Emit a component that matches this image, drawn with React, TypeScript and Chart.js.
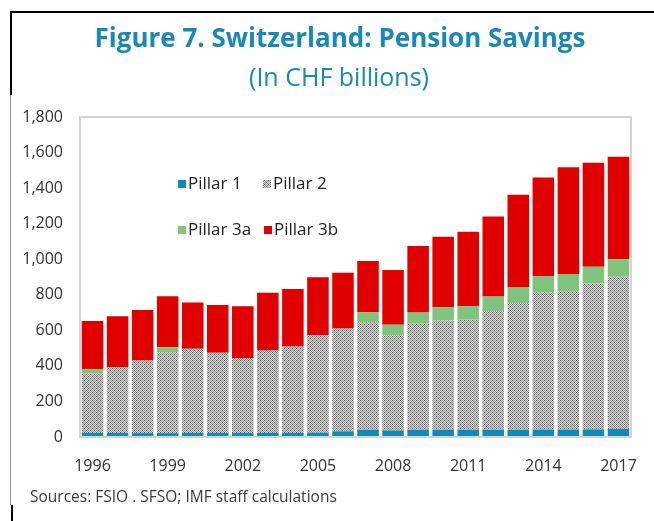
import React, { useEffect, useRef } from "react";
import { Chart, registerables } from "chart.js";

Chart.register(...registerables);

const years = [
  "1996", "1997", "1998", "1999", "2000", "2001", "2002", "2003", "2004", "2005", "2006",
  "2007", "2008", "2009", "2010", "2011", "2012", "2013", "2014", "2015", "2016", "2017",
];
const shownYears = ["1996", "1999", "2002", "2005", "2008", "2011", "2014", "2017"];

const pillar1 = [23, 23, 22, 22, 23, 23, 23, 23, 23, 25, 32, 41, 37, 41, 41, 41, 41, 41, 42, 42, 43, 45];
const pillar2 = [335, 369, 408, 455, 473, 451, 420, 464, 486, 547, 579, 604, 535, 597, 615, 619, 668, 713, 771, 780, 821, 857];
const pillar3a = [25, 0, 0, 28, 0, 0, 0, 0, 0, 0, 0, 57, 60, 62, 74, 76, 81, 87, 92, 95, 94, 98];
const pillar3b = [269, 287, 285, 287, 261, 269, 293, 324, 323, 326, 313, 288, 307, 375, 396, 418, 451, 521, 555, 600, 585, 577];

const seriesNames = ["Pillar 1", "Pillar 2", "Pillar 3a", "Pillar 3b"];

const yMax = 1800;
const yStep = 200;

const FONT = "'Open Sans', 'Noto Sans', sans-serif";

function makePattern(): CanvasPattern | string {
  const c = document.createElement("canvas");
  c.width = 4;
  c.height = 4;
  const g = c.getContext("2d");
  if (!g) return "#a0a0a0";
  const D = "#585858", M = "#8e8e8e", L = "#dadada";
  const grid = [
    [D, L, M, L],
    [L, M, L, M],
    [M, L, D, L],
    [L, M, L, M],
  ];
  for (let y = 0; y < 4; y++)
    for (let x = 0; x < 4; x++) {
      g.fillStyle = grid[y][x];
      g.fillRect(x, y, 1, 1);
    }
  const p = g.createPattern(c, "repeat");
  return p || "#a0a0a0";
}

export default function App() {
  const ref = useRef<HTMLCanvasElement | null>(null);

  useEffect(() => {
    if (!ref.current) return;
    const pattern = makePattern();

    const framePlugin = {
      id: "frame",
      afterDraw(chart: any) {
        const { ctx, chartArea } = chart;
        ctx.save();
        ctx.strokeStyle = "#d4d4d4";
        ctx.lineWidth = 2;
        ctx.strokeRect(chartArea.left, chartArea.top, chartArea.right - chartArea.left, chartArea.bottom - chartArea.top);
        ctx.restore();
      },
    };

    const legendSpots = [
      [178, 184],
      [263, 184],
      [178, 230],
      [264, 230],
    ];

    const legendPlugin = {
      id: "insideLegend",
      afterDraw(chart: any) {
        const { ctx } = chart;
        ctx.save();
        ctx.font = `17px ${FONT}`;
        ctx.textBaseline = "middle";
        ctx.textAlign = "left";
        chart.data.datasets.forEach((ds: any, i: number) => {
          const [x, y] = legendSpots[i];
          ctx.fillStyle = ds.backgroundColor;
          ctx.fillRect(x, y - 4, 8, 8);
          ctx.fillStyle = "#1e1e1e";
          ctx.fillText(ds.label, x + 10, y);
        });
        ctx.restore();
      },
    };

    const chart = new Chart(ref.current, {
      type: "bar",
      data: {
        labels: years,
        datasets: [
          { label: seriesNames[0], data: pillar1, backgroundColor: "#1289b6" },
          { label: seriesNames[1], data: pillar2, backgroundColor: pattern as any },
          { label: seriesNames[2], data: pillar3a, backgroundColor: "#80c37c" },
          { label: seriesNames[3], data: pillar3b, backgroundColor: "#e00000" },
        ],
      },
      options: {
        responsive: false,
        maintainAspectRatio: false,
        animation: false,
        devicePixelRatio: 1,
        layout: { padding: { top: 117, right: 23, bottom: 0, left: 0 } },
        datasets: {
          bar: { categoryPercentage: 1, barPercentage: 0.86, borderWidth: 0 },
        },
        plugins: {
          legend: { display: false },
          tooltip: { enabled: false },
          title: { display: false },
        },
        scales: {
          x: {
            stacked: true,
            grid: { display: false },
            border: { display: false },
            afterFit: (s: any) => {
              s.height = 84;
            },
            ticks: {
              autoSkip: false,
              maxRotation: 0,
              padding: 12,
              color: "#333333",
              font: { family: FONT, size: 16 },
              callback: (_v: any, i: number) => (shownYears.includes(years[i]) ? years[i] : ""),
            },
          },
          y: {
            stacked: true,
            min: 0,
            max: yMax,
            grid: { display: false },
            border: { display: false },
            afterFit: (s: any) => {
              s.width = 80;
            },
            ticks: {
              stepSize: yStep,
              padding: 9,
              color: "#333333",
              font: { family: FONT, size: 16 },
              callback: (v: any) => Number(v).toLocaleString("en-US"),
            },
          },
        },
      },
      plugins: [framePlugin, legendPlugin],
    });
    return () => chart.destroy();
  }, []);

  return (
    <div style={{ position: "fixed", left: 0, top: 0, width: 654, height: 521, background: "#ffffff", overflow: "hidden" }}>
      <canvas ref={ref} width={654} height={521} style={{ position: "absolute", left: 0, top: 0, width: 654, height: 521 }} />
      <div style={{ position: "absolute", left: 10, top: 11, width: 644, height: 2, background: "#000" }} />
      <div style={{ position: "absolute", left: 10, top: 11, width: 2, height: 84, background: "#000" }} />
      <div style={{ position: "absolute", left: 10, top: 95, width: 1, height: 410, background: "#9a9a9a" }} />
      <div style={{ position: "absolute", left: 11, top: 505, width: 2, height: 16, background: "#000" }} />
      <div
        style={{
          position: "absolute",
          left: 0,
          width: 680,
          top: 19,
          textAlign: "center",
          fontFamily: FONT,
          fontWeight: 700,
          fontSize: 26,
          lineHeight: "36px",
          color: "#1888b8",
          whiteSpace: "nowrap",
        }}
      >
        Figure 7. Switzerland: Pension Savings
      </div>
      <div
        style={{
          position: "absolute",
          left: 0,
          width: 678,
          top: 59,
          textAlign: "center",
          fontFamily: FONT,
          fontWeight: 400,
          fontSize: 25,
          lineHeight: "34px",
          color: "#1888b8",
          whiteSpace: "nowrap",
        }}
      >
        (In CHF billions)
      </div>
      <div
        style={{
          position: "absolute",
          left: 30,
          top: 486,
          fontFamily: FONT,
          fontSize: 15.5,
          lineHeight: "20px",
          color: "#3a3a3a",
          whiteSpace: "nowrap",
        }}
      >
        Sources: FSIO . SFSO; IMF staff calculations
      </div>
    </div>
  );
}
